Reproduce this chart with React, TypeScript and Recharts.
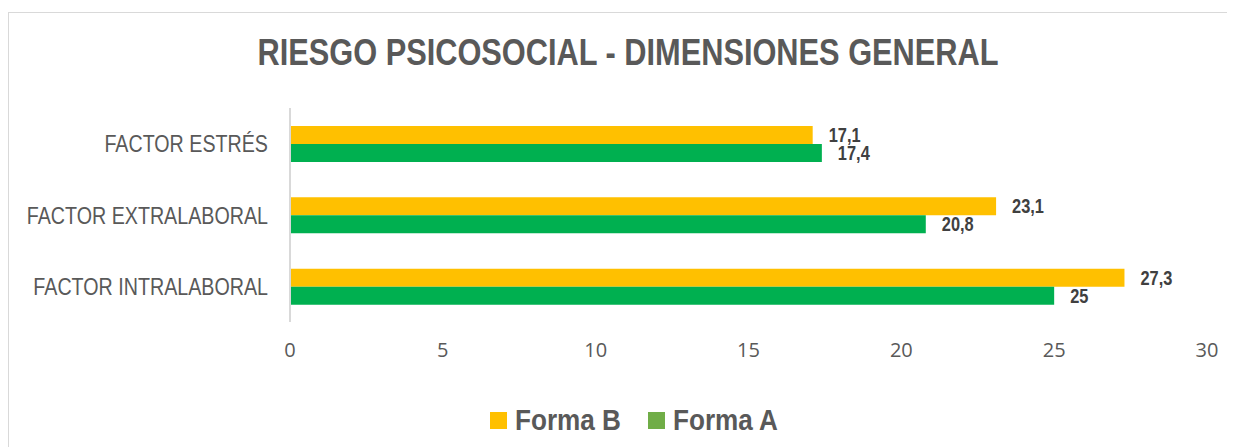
import { BarChart, Bar, XAxis, YAxis, Legend, LabelList } from "recharts";

const categories = ["FACTOR ESTRÉS", "FACTOR EXTRALABORAL", "FACTOR INTRALABORAL"];
const formaB = [17.1, 23.1, 27.3];
const formaA = [17.4, 20.8, 25];
const xTicks = [0, 5, 10, 15, 20, 25, 30];

const legendItems = [
  { label: "Forma B", color: "#FFC000" },
  { label: "Forma A", color: "#70AD47" },
];

// Arial Narrow is not available: squeeze Liberation Sans horizontally
const SANS = "'Liberation Sans', Arial, sans-serif";
const SQUEEZE = 0.82;

const chartData = categories.map((name, i) => ({
  name,
  formaB: formaB[i],
  formaA: formaA[i],
}));

const fmt = (v: any) => String(v).replace(".", ",");

const CategoryTick = ({ x, y, payload }: any) => (
  <text
    transform={`translate(${x},${y}) scale(${SQUEEZE},1)`}
    textAnchor="end"
    dy="0.355em"
    fill="#595959"
    fontSize={24}
    fontFamily={SANS}
  >
    {payload.value}
  </text>
);

const ValueLabel = ({ x, y, width, height, value }: any) => (
  <text
    transform={`translate(${Number(x) + Number(width) + 16},${Number(y) + Number(height) / 2}) scale(${SQUEEZE},1)`}
    textAnchor="start"
    dy="0.355em"
    fill="#404040"
    fontWeight="bold"
    fontSize={20}
    fontFamily={SANS}
  >
    {fmt(value)}
  </text>
);

const renderLegend = () => (
  <div style={{ position: "relative", height: 30 }}>
    {legendItems.map((it, i) => (
      <div key={it.label} style={{ position: "absolute", left: 481 + i * 158, top: 0, height: 30 }}>
        <span style={{ position: "absolute", left: 0, top: 7, width: 17, height: 17, background: it.color }} />
        <span
          style={{
            position: "absolute",
            left: 25,
            top: 0,
            whiteSpace: "nowrap",
            fontFamily: SANS,
            fontWeight: "bold",
            fontSize: 29,
            lineHeight: "30px",
            color: "#595959",
            transform: "scaleX(0.9)",
            transformOrigin: "left center",
          }}
        >
          {it.label}
        </span>
      </div>
    ))}
  </div>
);

export default function App() {
  return (
    <div
      style={{
        position: "relative",
        width: 1226,
        height: 440,
        marginTop: 4,
        border: "1px solid #d9d9d9",
        background: "#fff",
      }}
    >
      <div
        style={{
          position: "absolute",
          top: 21,
          left: 6,
          width: 1226,
          textAlign: "center",
          fontFamily: SANS,
          fontWeight: "bold",
          fontSize: 37.5,
          lineHeight: 1,
          color: "#595959",
          transform: `scaleX(${SQUEEZE})`,
          transformOrigin: "center",
          whiteSpace: "nowrap",
        }}
      >
        RIESGO PSICOSOCIAL - DIMENSIONES GENERAL
      </div>
      <BarChart
        width={1226}
        height={434}
        data={chartData}
        layout="vertical"
        margin={{ top: 95, right: 28, bottom: 95, left: 0 }}
        barGap={0}
        barSize={18}
      >
        <XAxis
          type="number"
          domain={[0, 30]}
          ticks={xTicks}
          axisLine={false}
          tickLine={false}
          tickMargin={15}
          height={30}
          tick={{ fill: "#595959", fontSize: 20, fontFamily: "'Open Sans', sans-serif" }}
        />
        <YAxis
          type="category"
          dataKey="name"
          width={281}
          tickLine={false}
          tickSize={0}
          tickMargin={22}
          axisLine={{ stroke: "#d9d9d9", strokeWidth: 2 }}
          tick={<CategoryTick />}
        />
        <Legend
          verticalAlign="middle"
          layout="horizontal"
          content={renderLegend}
          wrapperStyle={{ top: 392, left: 0, width: 1226 }}
        />
        <Bar dataKey="formaB" name="Forma B" fill="#FFC000" isAnimationActive={false}>
          <LabelList dataKey="formaB" content={<ValueLabel />} />
        </Bar>
        <Bar dataKey="formaA" name="Forma A" fill="#00B050" isAnimationActive={false}>
          <LabelList dataKey="formaA" content={<ValueLabel />} />
        </Bar>
      </BarChart>
    </div>
  );
}
